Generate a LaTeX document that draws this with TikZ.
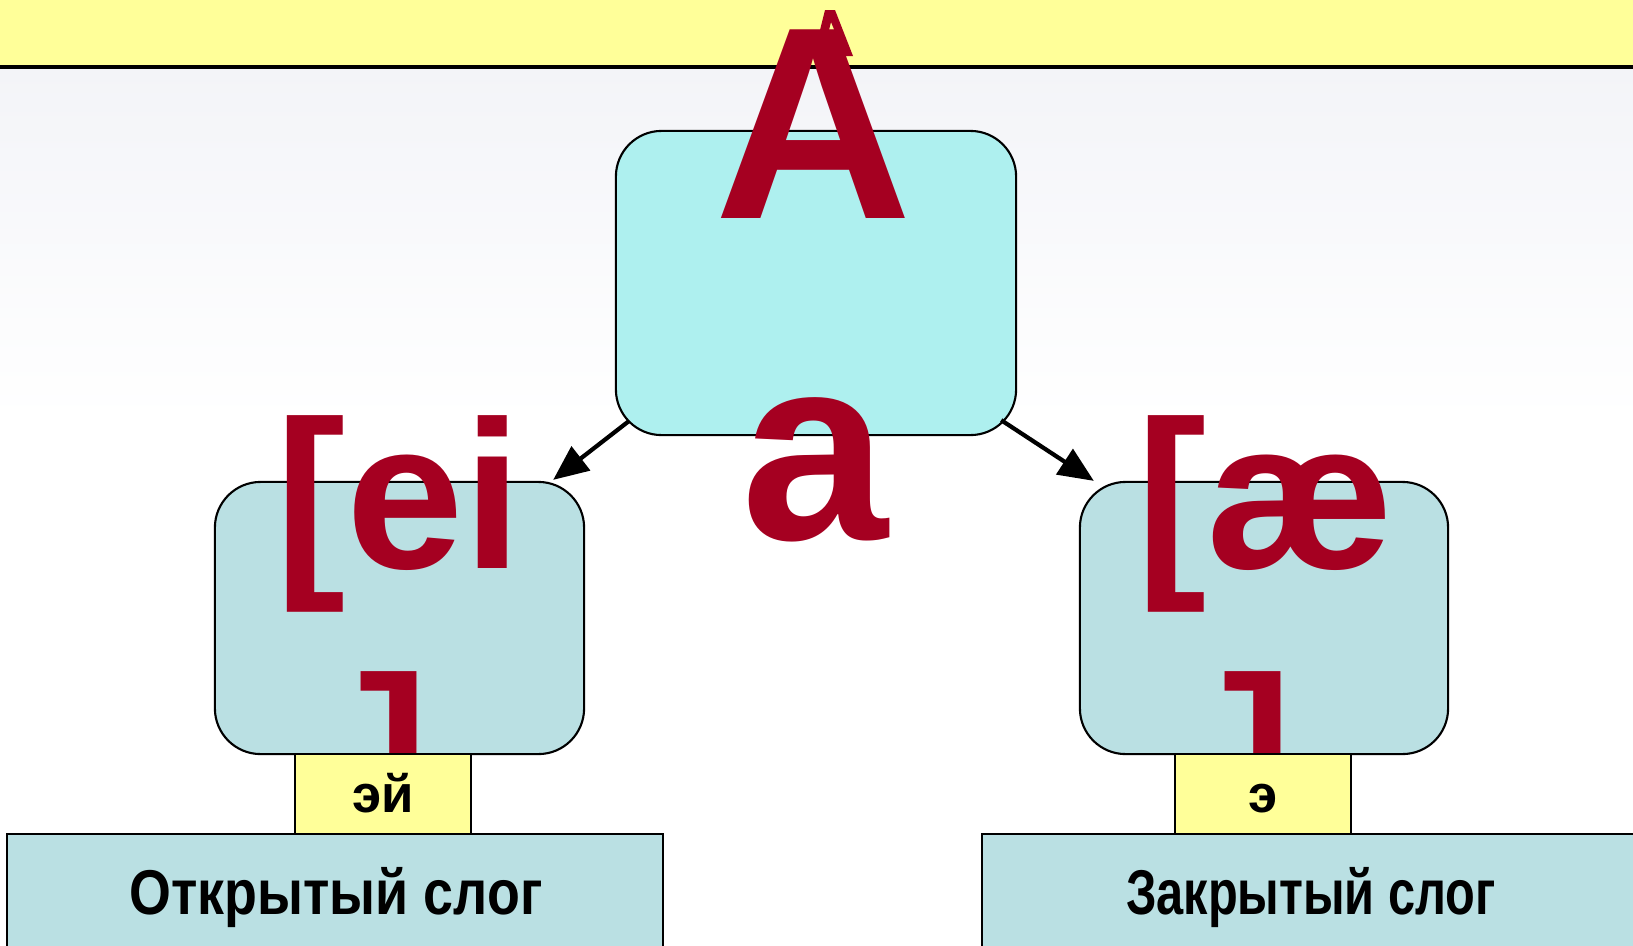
\documentclass[tikz,border=0pt]{standalone}
\usepackage{fontspec}
\setmainfont{Liberation Sans}
\usetikzlibrary{arrows.meta}
\definecolor{bandcol}{HTML}{FFFF99}
\definecolor{cboxcol}{HTML}{AEF0EF}
\definecolor{sboxcol}{HTML}{BAE0E3}
\definecolor{dred}{HTML}{A50021}
\definecolor{bgtop}{HTML}{F3F4F8}
\begin{document}
\begin{tikzpicture}[x=0.01cm,y=-0.01cm,
  rbox/.style={draw=black,line width=0.6pt,rounded corners=13pt,inner sep=0pt},
  sqbox/.style={draw=black,line width=0.7pt,inner sep=0pt},
  lbl/.style={font=\bfseries\fontsize{18}{21}\selectfont,text=black,inner sep=0pt,anchor=base},
  slbl/.style={font=\bfseries\fontsize{15}{18}\selectfont,text=black,inner sep=0pt,anchor=base},
  arr/.style={line width=1.2pt,-{Triangle[length=10pt,width=8.5pt]}},
  bigtxt/.style={font=\bfseries\fontsize{78}{94}\selectfont,text=dred,inner sep=0pt,anchor=base},
  ipa/.style={font=\bfseries\fontsize{60}{72}\selectfont,text=dred,inner sep=0pt,anchor=base}]
\useasboundingbox (0,0) rectangle (1633,945);
% background
\fill[white] (0,67) rectangle (1633,945);
\shade[top color=bgtop,bottom color=white] (0,67) rectangle (1633,420);
\fill[bandcol] (0,0) rectangle (1633,67);
\draw[line width=0.9pt] (0,67) -- (1633,67);
% rounded boxes
\node[rbox,fill=cboxcol,minimum width=4cm,minimum height=3.04cm] (c) at (816,283) {};
\node[rbox,fill=sboxcol,minimum width=3.69cm,minimum height=2.72cm] (l) at (399.5,618) {};
\node[rbox,fill=sboxcol,minimum width=3.68cm,minimum height=2.72cm] (r) at (1264,618) {};
% arrows
\draw[arr] ([shift={(14,-15)}]c.south west) -- ([shift={(-32,-1)}]l.north east);
\draw[arr] ([shift={(-16,-16)}]c.south east) -- ([shift={(15,0)}]r.north west);
% IPA texts
\node[ipa] (lt1) at (399,568) {[ei};
\node[ipa] (lt2) at (394,824) {]};
\node[ipa] (rt1) at (1265,568) {[æ};
\node[ipa] (rt2) at (1258,824) {]};
% yellow small boxes
\node[sqbox,fill=bandcol,minimum width=1.76cm,minimum height=0.80cm] (ly) at (383,794) {};
\node[sqbox,fill=bandcol,minimum width=1.76cm,minimum height=0.80cm] (ry) at (1263,794) {};
\node[slbl] (lyt) at (383,812) {эй};
\node[slbl] (ryt) at (1263,812) {э};
% big boxes
\node[sqbox,fill=sboxcol,minimum width=6.56cm,minimum height=1.14cm] (lb) at (335,891) {};
\node[sqbox,fill=sboxcol,minimum width=6.70cm,minimum height=1.14cm] (rb) at (1317,891) {};
\node[lbl] (lbt) at (336,914) {\scalebox{0.85}[1]{Открытый слог}};
\node[lbl] (rbt) at (1311,914) {\scalebox{0.77}[1]{Закрытый слог}};
% big letters
\node[bigtxt] (ua) at (814,218) {A};
\fill[dred] (820,30) -- (825,10) -- (835,10) -- (853,56) -- (845,56) -- (831,22) -- (829,30) -- cycle;
\node[bigtxt,font=\bfseries\fontsize{75}{90}\selectfont] (la) at (815,539) {a};
\end{tikzpicture}
\end{document}
